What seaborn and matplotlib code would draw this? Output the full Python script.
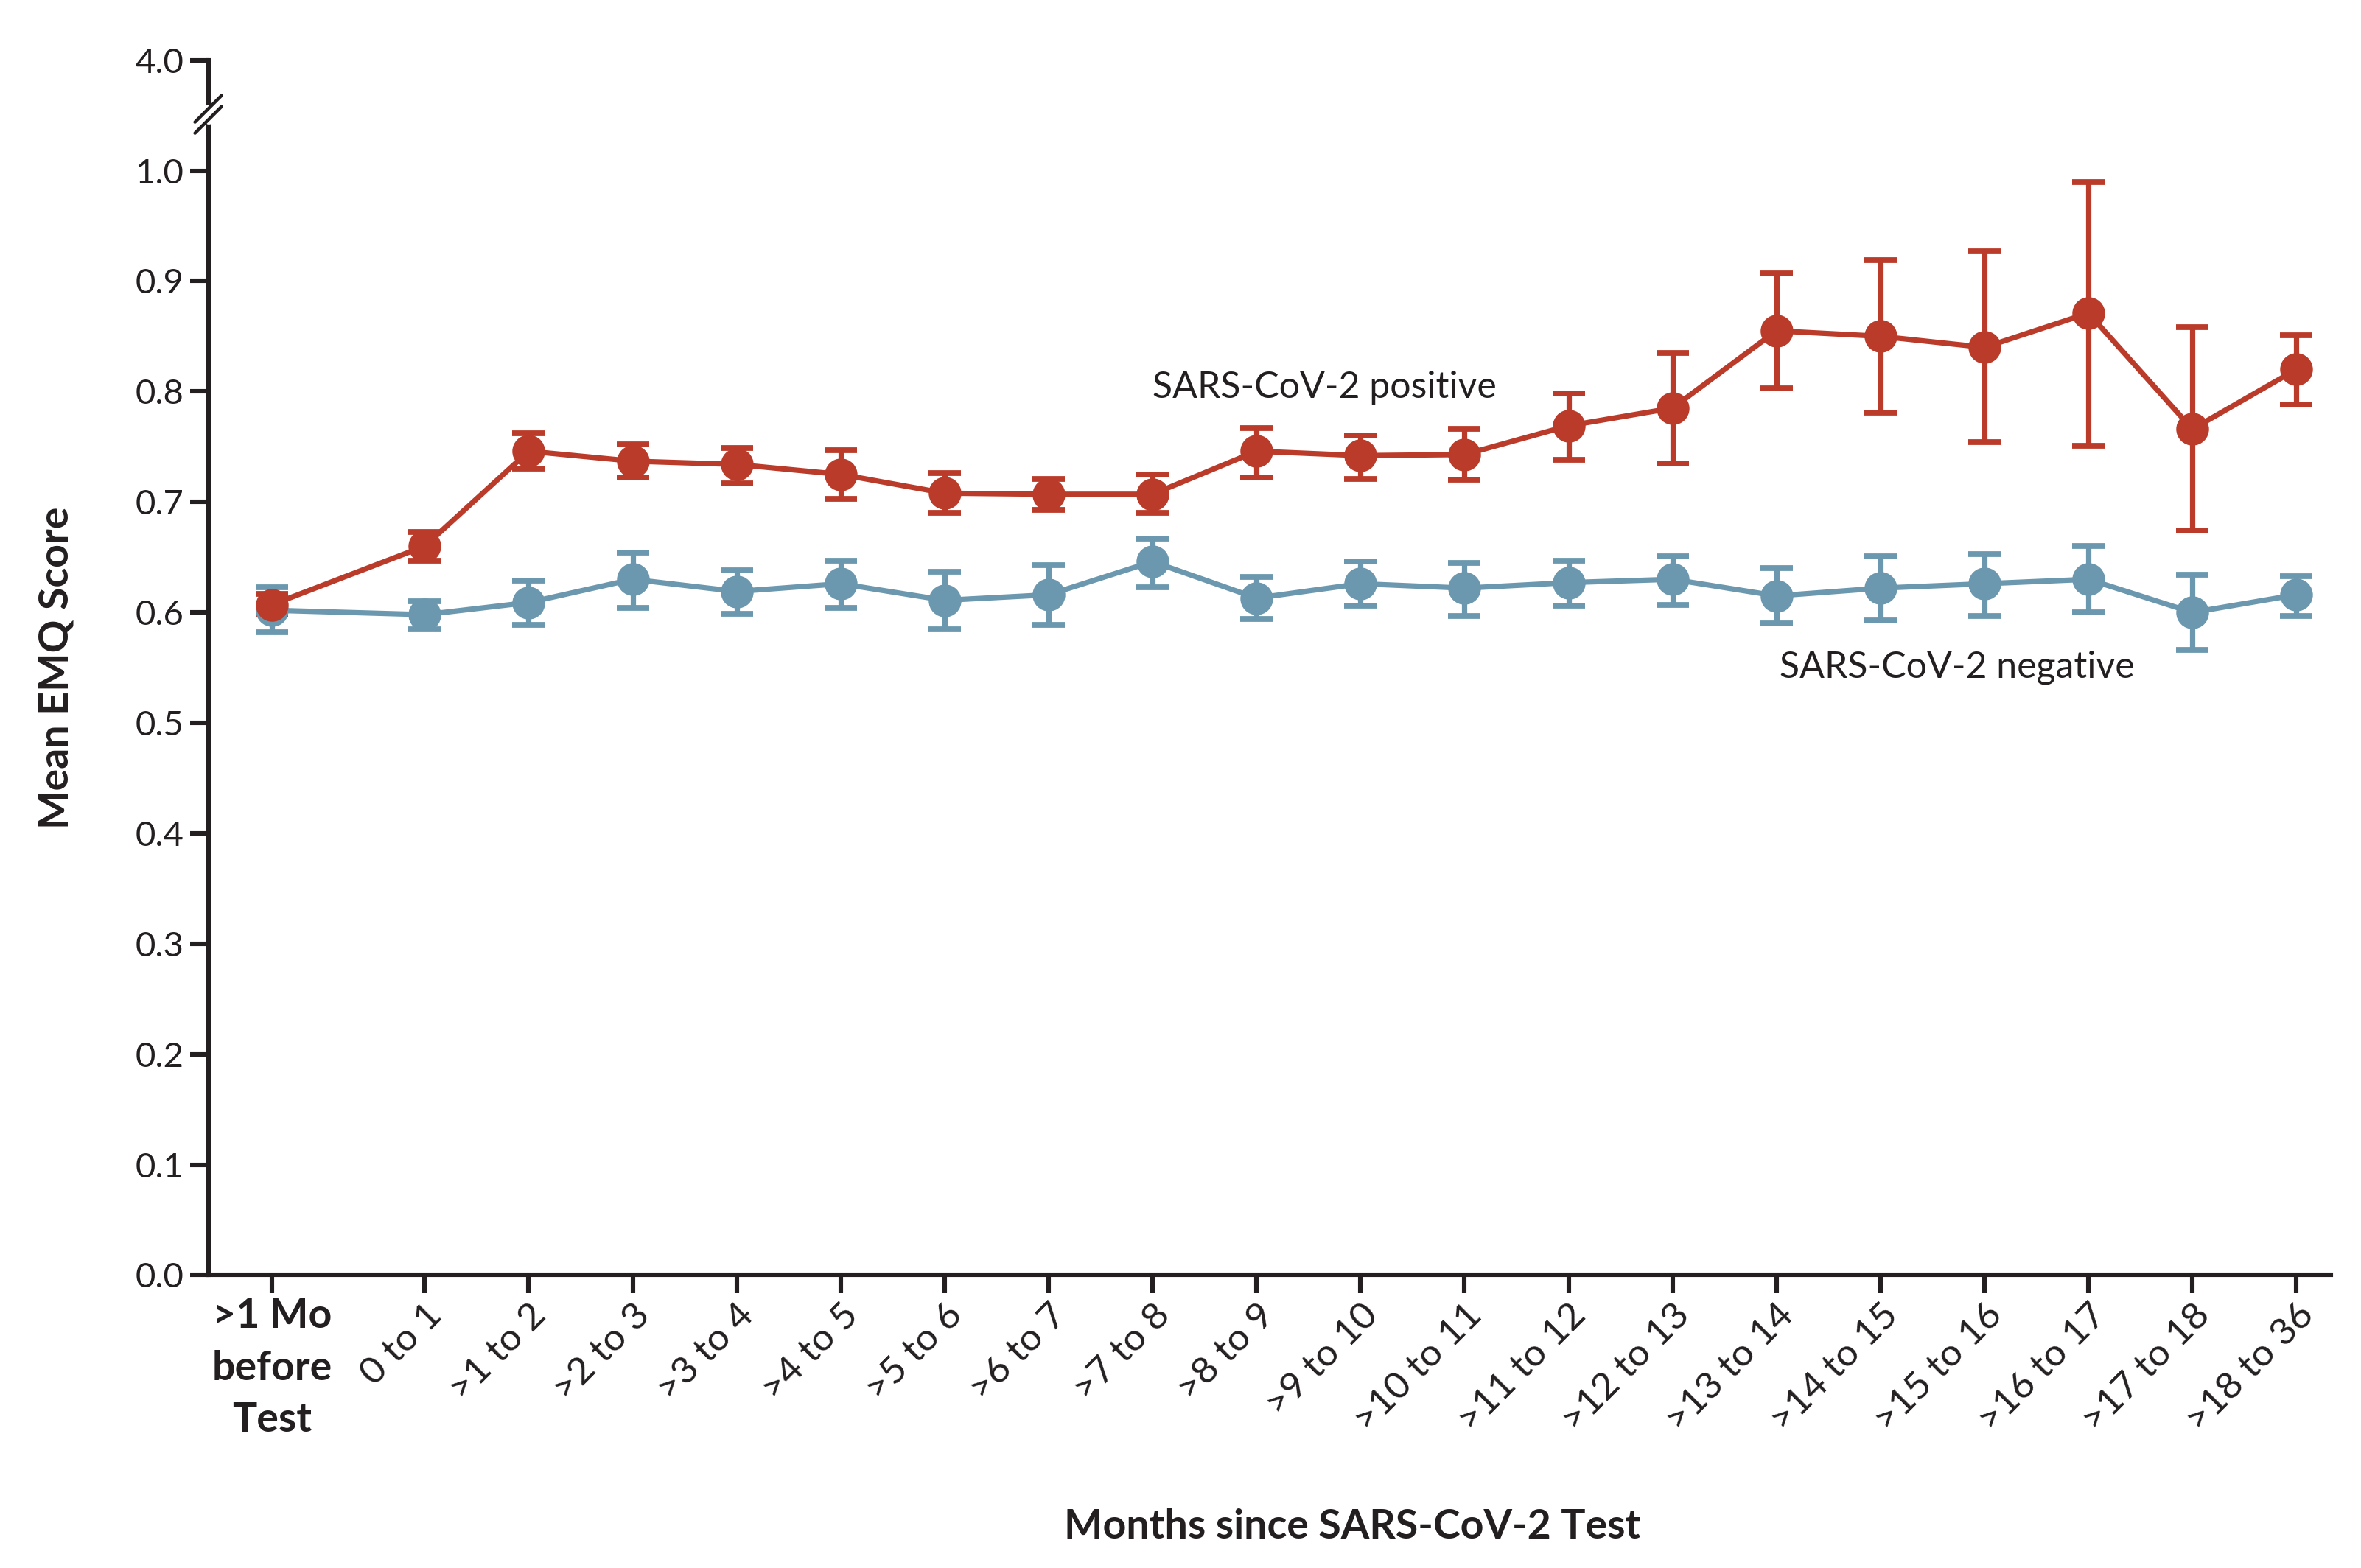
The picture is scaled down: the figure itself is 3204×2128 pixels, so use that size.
import numpy as np
import pandas as pd
import matplotlib
matplotlib.use("Agg")
import matplotlib.pyplot as plt
from matplotlib.lines import Line2D
from matplotlib.transforms import IdentityTransform
import seaborn as sns

sns.set_style("ticks")
plt.rcParams['font.family'] = ['Lato', 'DejaVu Sans']

INK = '#231f20'
RED = '#bb3b2a'
BLUE = '#6b98ae'

# ---- data ----
CATEGORIES = ['>1 Mo\nbefore\nTest', '0 to 1', '>1 to 2', '>2 to 3', '>3 to 4', '>4 to 5',
              '>5 to 6', '>6 to 7', '>7 to 8', '>8 to 9', '>9 to 10', '>10 to 11',
              '>11 to 12', '>12 to 13', '>13 to 14', '>14 to 15', '>15 to 16',
              '>16 to 17', '>17 to 18', '>18 to 36']

pos_mean = [0.607, 0.660, 0.746, 0.737, 0.734, 0.725, 0.708, 0.707, 0.707, 0.746,
            0.742, 0.743, 0.769, 0.785, 0.855, 0.850, 0.840, 0.871, 0.766, 0.820]
pos_low = [0.598, 0.647, 0.730, 0.722, 0.717, 0.703, 0.690, 0.693, 0.690, 0.722,
           0.721, 0.720, 0.738, 0.735, 0.803, 0.781, 0.754, 0.751, 0.674, 0.788]
pos_high = [0.617, 0.673, 0.762, 0.752, 0.749, 0.747, 0.726, 0.721, 0.725, 0.767,
            0.760, 0.766, 0.798, 0.835, 0.907, 0.919, 0.927, 0.990, 0.858, 0.851]

neg_mean = [0.602, 0.598, 0.609, 0.630, 0.619, 0.626, 0.611, 0.616, 0.646, 0.613,
            0.626, 0.622, 0.627, 0.630, 0.615, 0.622, 0.626, 0.630, 0.600, 0.616]
neg_low = [0.582, 0.585, 0.589, 0.604, 0.599, 0.604, 0.585, 0.589, 0.623, 0.594,
           0.606, 0.597, 0.606, 0.607, 0.590, 0.593, 0.597, 0.600, 0.566, 0.597]
neg_high = [0.623, 0.610, 0.629, 0.654, 0.638, 0.647, 0.637, 0.643, 0.667, 0.632,
            0.646, 0.645, 0.647, 0.651, 0.640, 0.651, 0.653, 0.660, 0.634, 0.633]

Y_TICKS = [0.0, 0.1, 0.2, 0.3, 0.4, 0.5, 0.6, 0.7, 0.8, 0.9, 1.0]
TOP_LABEL = '4.0'
Y_TOP = 1.0996     # where the 4.0 tick sits above the axis break
Y_BREAK = 1.051

# first category sits a little further away from the rest
xpos = np.array([0.0] + [1.469 + i for i in range(len(CATEGORIES) - 1)])

df = pd.concat([
    pd.DataFrame({'x': xpos, 'score': neg_mean, 'lo': neg_low, 'hi': neg_high,
                  'group': 'SARS-CoV-2 negative'}),
    pd.DataFrame({'x': xpos, 'score': pos_mean, 'lo': pos_low, 'hi': pos_high,
                  'group': 'SARS-CoV-2 positive'}),
], ignore_index=True)
palette = {'SARS-CoV-2 negative': BLUE, 'SARS-CoV-2 positive': RED}

fig = plt.figure(figsize=(16.02, 10.64), dpi=200)
ax = fig.add_axes([0.0882, 0.1868, 0.899, 0.7748])

for name, g in df.groupby('group'):
    ax.errorbar(g['x'], g['score'], yerr=[g['score'] - g['lo'], g['hi'] - g['score']],
                fmt='none', ecolor=palette[name], elinewidth=2.6, capsize=8,
                capthick=2.8, zorder=1)

sns.lineplot(data=df, x='x', y='score', hue='group', palette=palette,
             hue_order=['SARS-CoV-2 negative', 'SARS-CoV-2 positive'],
             marker='o', markersize=16, markeredgewidth=0, linewidth=2.6,
             sort=False, estimator=None, legend=False, ax=ax)

ax.text(8.47, 0.8035, 'SARS-CoV-2 positive', fontsize=18, color=INK, va='center', ha='left')
ax.text(14.50, 0.550, 'SARS-CoV-2 negative', fontsize=18, color=INK, va='center', ha='left')

# axes
ax.set_xlim(-0.613, 19.80)
ax.set_ylim(0, 1.1)
ax.set_yticks(Y_TICKS + [Y_TOP])
ax.set_yticklabels([f'{v:.1f}' for v in Y_TICKS] + [TOP_LABEL])
ax.set_xticks(xpos)
ax.set_xticklabels(CATEGORIES)
for sp in ['top', 'right']:
    ax.spines[sp].set_visible(False)
for sp in ['left', 'bottom']:
    ax.spines[sp].set_linewidth(2.2)
    ax.spines[sp].set_color(INK)
ax.spines['left'].set_bounds(0, Y_TOP)
ax.tick_params(axis='both', direction='out', length=9, width=2.2, color=INK,
               labelsize=17, labelcolor=INK, left=True, bottom=True)
ax.tick_params(axis='y', pad=3)
ax.tick_params(axis='x', pad=2, labelsize=18.5)

for i, lab in enumerate(ax.get_xticklabels()):
    if i == 0:
        lab.set_rotation(0)
        lab.set_ha('center')
        lab.set_va('top')
        lab.set_fontweight('bold')
        lab.set_fontsize(20)
        lab.set_linespacing(1.5)
    else:
        lab.set_rotation(45)
        lab.set_ha('right')
        lab.set_va('top')
        lab.set_rotation_mode('anchor')

ax.set_xlabel('Months since SARS-CoV-2 Test', fontsize=20, fontweight='bold', color=INK)
ax.set_ylabel('Mean EMQ Score', fontsize=20, fontweight='bold', color=INK)
ax.xaxis.set_label_coords(0.539, -0.192)
ax.yaxis.set_label_coords(-0.063, 0.5)

# axis break marks on the y axis
bx, by = ax.get_yaxis_transform().transform((0, Y_BREAK))
fig.add_artist(Line2D([bx, bx], [by - 8, by + 8], color='white', lw=4,
                      transform=IdentityTransform(), zorder=5))
for off in (7.5, -7.5):
    fig.add_artist(Line2D([bx - 18, bx + 18], [by + off - 18, by + off + 18], color=INK,
                          lw=1.6, transform=IdentityTransform(), zorder=6))

fig.savefig('out.png', dpi=200, facecolor='white')
